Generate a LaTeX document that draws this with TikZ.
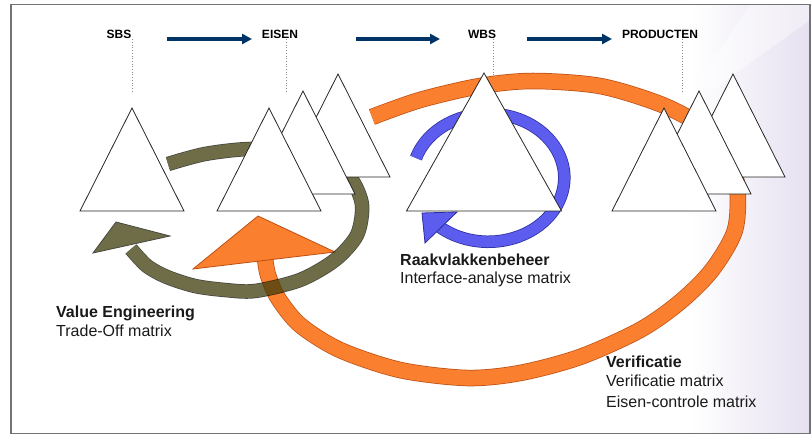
\documentclass[tikz,border=0pt]{standalone}
\usepackage{fontspec}
\setmainfont{Liberation Sans}
\usetikzlibrary{arrows.meta}

\definecolor{navy}{RGB}{0,51,102}
\definecolor{olijf}{RGB}{62,60,10}
\definecolor{olijfrand}{RGB}{10,10,0}
\definecolor{oranje}{RGB}{250,128,48}
\definecolor{oranjerand}{RGB}{190,80,20}
\definecolor{blauw}{RGB}{92,92,238}
\definecolor{blauwrand}{RGB}{45,45,160}
\definecolor{lila}{RGB}{230,224,240}

\tikzset{
  titel/.style={font=\fontsize{12}{14}\selectfont\bfseries, inner sep=0pt, anchor=base},
  uitleg/.style={font=\fontsize{16}{19}\selectfont, inner sep=0pt, anchor=base west, text=black!90},
  stap/.style={line width=3.5pt, navy, -{Triangle[length=10pt,width=10pt]}},
  lijn/.style={black!45, dotted, line width=0.7pt},
  driehoek/.style={draw=black!85, fill=white, line width=0.8pt, line join=miter},
  oranjeband/.style={draw=oranje, line width=15pt, preaction={draw=oranjerand, line width=16.5pt}},
  olijfband/.style={draw=olijf, line width=13pt, preaction={draw=olijfrand, line width=14.5pt}},
  blauwband/.style={draw=blauw, line width=11pt, preaction={draw=blauwrand, line width=12.5pt}},
}

% apex x, apex y, half width, height
\newcommand{\piramide}[4]{\draw[driehoek] (#1,#2) -- ++(-#3,#4) -- ++({2*#3},0) -- cycle;}

\begin{document}
\begin{tikzpicture}[x=1pt,y=-1pt]
\useasboundingbox (0,0) rectangle (811,435);
% achtergrond
\shade[left color=white, right color=lila] (690,5) rectangle (810,433);
\fill[white, opacity=0.4] (750,5) -- (810,5) -- (810,20) -- (705,95) -- (695,85) -- cycle;

% kopjes
\node[titel] (sbs) at (119,39) {SBS};
\node[titel] (eisen) at (280,39) {EISEN};
\node[titel] (wbs) at (482,39) {WBS};
\node[titel] (prod) at (660,39) {PRODUCTEN};

\coordinate (sbsl) at (132,91);
\coordinate (eisenl) at (286,91);
\coordinate (wbsl) at (493,91);
\coordinate (prodl) at (682,91);
\draw[lijn] (sbs.south -| sbsl) -- (sbsl);
\draw[lijn] (eisen.south -| eisenl) -- (eisenl);
\draw[lijn] (wbs.south -| wbsl) -- (wbsl);
\draw[lijn] (prod.south -| prodl) -- (prodl);

% verificatie
\draw[oranjeband] plot[smooth] coordinates {(372,117) (420,100) (480,86) (533,81) (600,86)
  (660,104) (700,125) (725,150) (737,185) (735,230) (712,270) (680,302) (640,330) (580,357)
  (520,373) (467,378) (400,370) (340,350) (300,325) (278,298) (268,275) (265,258)};
\filldraw[fill=oranje, draw=oranjerand, line width=0.8pt] (258,216) -- (335,252) -- (193,269) -- cycle;

% value engineering
\begin{scope}[transparency group, opacity=0.75]
\draw[olijfband] plot[smooth] coordinates {(168,164) (205,154) (250,149) (300,152) (333,163)
  (352,180) (362,205) (357,235) (335,260) (300,280) (255,291) (225,290) (195,286) (167,277)
  (147,266) (131,249)};
\filldraw[fill=olijf, draw=olijfrand, line width=0.8pt] (116,222) -- (170,236) -- (93,253) -- cycle;
\end{scope}

% raakvlakken
\draw[blauwband] (416,158) arc[start angle=198, end angle=490, x radius=76, y radius=64];
\filldraw[fill=blauw, draw=blauwrand, line width=0.8pt] (422,213) -- (457,212) -- (425,243) -- cycle;

% driehoeken
\piramide{132}{108}{52}{103}
\piramide{338}{74}{52}{103}
\piramide{303}{91}{52}{103}
\piramide{269}{108}{52}{103}
\piramide{484}{73}{77.5}{138}
\piramide{733}{74}{52}{103}
\piramide{699}{91}{52}{103}
\piramide{664}{108}{52}{103}

\draw[stap] (167,39) -- (252,39);
\draw[stap] (356,39) -- (440,39);
\draw[stap] (527,39) -- (612,39);

\node[uitleg, font=\fontsize{16}{19}\selectfont\bfseries] (ve) at (56,318) {Value Engineering};
\node[uitleg] (vem) at (56,337) {Trade-Off matrix};
\node[uitleg, font=\fontsize{16}{19}\selectfont\bfseries] (rv) at (400,266) {Raakvlakkenbeheer};
\node[uitleg] (rvm) at (400,284) {Interface-analyse matrix};
\node[uitleg, font=\fontsize{16}{19}\selectfont\bfseries] (ver) at (606,368) {Verificatie};
\node[uitleg] (verm) at (606,387) {Verificatie matrix};
\node[uitleg] (ecm) at (606,407) {Eisen-controle matrix};

\draw[black!55, line width=1.5pt] (11,4.5) rectangle (810,433.5);
\end{tikzpicture}
\end{document}
